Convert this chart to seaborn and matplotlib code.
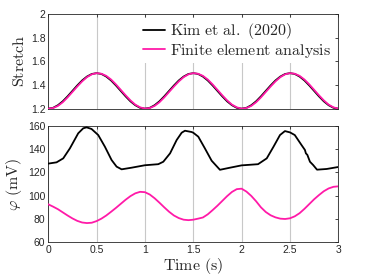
import numpy as np
import pandas as pd
import matplotlib
matplotlib.use("Agg")
import matplotlib.pyplot as plt
import seaborn as sns

# ---------------- data ----------------
stretch_time = [round(0.05 * i, 2) for i in range(61)]
stretch_kim = [
    1.200, 1.207, 1.229, 1.262, 1.304, 1.350, 1.396, 1.438, 1.471, 1.493,
    1.500, 1.493, 1.471, 1.438, 1.396, 1.350, 1.304, 1.262, 1.229, 1.207,
    1.200, 1.207, 1.229, 1.262, 1.304, 1.350, 1.396, 1.438, 1.471, 1.493,
    1.500, 1.493, 1.471, 1.438, 1.396, 1.350, 1.304, 1.262, 1.229, 1.207,
    1.200, 1.207, 1.229, 1.262, 1.304, 1.350, 1.396, 1.438, 1.471, 1.493,
    1.500, 1.493, 1.471, 1.438, 1.396, 1.350, 1.304, 1.262, 1.229, 1.207,
    1.200,
]
stretch_fe = [
    1.200, 1.205, 1.223, 1.254, 1.295, 1.341, 1.387, 1.430, 1.466, 1.490,
    1.500, 1.495, 1.477, 1.446, 1.405, 1.359, 1.313, 1.270, 1.234, 1.211,
    1.200, 1.205, 1.223, 1.254, 1.295, 1.341, 1.387, 1.430, 1.466, 1.490,
    1.500, 1.495, 1.477, 1.446, 1.405, 1.359, 1.313, 1.270, 1.234, 1.211,
    1.200, 1.205, 1.223, 1.254, 1.295, 1.341, 1.387, 1.430, 1.466, 1.490,
    1.500, 1.495, 1.477, 1.446, 1.405, 1.359, 1.313, 1.270, 1.234, 1.211,
    1.200,
]

phi_kim_time = [
    0.0, 0.086, 0.155, 0.224, 0.31, 0.362, 0.397, 0.448, 0.517, 0.586,
    0.655, 0.707, 0.759, 0.862, 1.0, 1.138, 1.19, 1.26, 1.328, 1.38,
    1.414, 1.483, 1.5, 1.552, 1.62, 1.69, 1.776, 1.88, 2.0, 2.17,
    2.26, 2.33, 2.397, 2.448, 2.5, 2.55, 2.62, 2.655, 2.665, 2.68,
    2.707, 2.74, 2.78, 2.88, 3.0,
]
phi_kim = [
    127.5, 128.6, 132.0, 140.6, 153.5, 157.8, 158.6, 157.2, 152.0, 142.0,
    130.6, 124.9, 122.6, 124.0, 126.1, 127.0, 129.1, 136.3, 147.7, 154.0,
    155.7, 154.6, 154.0, 150.6, 140.6, 130.0, 122.2, 124.0, 126.0, 127.0,
    132.0, 142.0, 152.0, 155.4, 154.3, 152.0, 143.4, 139.2, 136.3, 135.0,
    129.1, 126.3, 122.3, 122.9, 124.6,
]

phi_fe_time = [round(0.05 * i, 2) for i in range(61)]
phi_fe = [
    92.6, 90.6, 88.4, 85.7, 83.0, 80.5, 78.4, 77.0, 76.5, 76.8,
    78.2, 80.3, 83.0, 86.2, 89.5, 93.0, 96.5, 99.6, 102.0, 103.3,
    103.0, 101.0, 97.8, 94.0, 90.0, 86.2, 83.0, 80.8, 79.4, 79.0,
    79.4, 80.3, 81.3, 84.0, 87.6, 91.4, 95.5, 99.6, 103.2, 105.6,
    106.0, 103.5, 99.8, 95.2, 90.0, 86.0, 83.2, 81.4, 80.3, 80.0,
    80.6, 82.3, 85.0, 88.7, 92.8, 96.9, 100.5, 103.8, 106.2, 107.6,
    108.0,
]

x_ticks = [0, 0.5, 1, 1.5, 2, 2.5, 3]
x_tick_labels = ["0", "0.5", "1", "1.5", "2", "2.5", "3"]
stretch_ticks = [1.2, 1.4, 1.6, 1.8, 2.0]
stretch_tick_labels = ["1.2", "1.4", "1.6", "1.8", "2"]
phi_ticks = [60, 80, 100, 120, 140, 160]
phi_tick_labels = ["60", "80", "100", "120", "140", "160"]

label_kim = r"$\mathrm{Kim\ et\ al.\ (2020)}$"
label_fe = r"$\mathrm{Finite\ element\ analysis}$"

# ---------------- style ----------------
sns.set_theme(style="white")
plt.rcParams["font.family"] = ["Liberation Sans", "DejaVu Sans"]
plt.rcParams["mathtext.fontset"] = "cm"

BLACK = "#000000"
PINK = "#ff1aa8"
AXC = "#262626"
GRID = "#c8c8c8"

fig = plt.figure(figsize=(3.74, 2.80), dpi=100)
ax1 = fig.add_axes([0.129, 0.612, 0.7755, 0.338])
ax2 = fig.add_axes([0.129, 0.1346, 0.7755, 0.4164])

df_s = pd.DataFrame({"t": stretch_time, "kim": stretch_kim, "fe": stretch_fe})
df_pk = pd.DataFrame({"t": phi_kim_time, "v": phi_kim})
df_pf = pd.DataFrame({"t": phi_fe_time, "v": phi_fe})

sns.lineplot(data=df_s, x="t", y="kim", ax=ax1, color=BLACK, lw=1.3,
             label=label_kim, estimator=None, sort=False, zorder=3)
sns.lineplot(data=df_s, x="t", y="fe", ax=ax1, color=PINK, lw=1.3,
             label=label_fe, estimator=None, sort=False, zorder=3)
sns.lineplot(data=df_pk, x="t", y="v", ax=ax2, color=BLACK, lw=1.3,
             estimator=None, sort=False, zorder=3)
sns.lineplot(data=df_pf, x="t", y="v", ax=ax2, color=PINK, lw=1.3,
             estimator=None, sort=False, zorder=3)

for ax in (ax1, ax2):
    ax.set_xlim(0, 3)
    ax.set_xticks(x_ticks)
    ax.grid(True, axis="x", color=GRID, lw=0.8, zorder=0)
    ax.grid(False, axis="y")
    ax.tick_params(direction="in", length=2.5, width=0.6, colors=AXC,
                   labelsize=7.5, top=True, right=True, pad=2,
                   labelcolor=AXC)
    for sp in ax.spines.values():
        sp.set_color(AXC)
        sp.set_linewidth(0.6)
    ax.set_axisbelow(True)

ax1.set_ylim(1.2, 2.0)
ax1.set_yticks(stretch_ticks)
ax1.set_yticklabels(stretch_tick_labels)
ax1.set_xticklabels([])
ax1.set_xlabel("")
ax1.set_ylabel(r"$\mathrm{Stretch}$", fontsize=11.5, color=AXC, labelpad=3)

ax2.set_ylim(60, 160)
ax2.set_yticks(phi_ticks)
ax2.set_yticklabels(phi_tick_labels)
ax2.set_xticklabels(x_tick_labels)
ax2.set_xlabel(r"$\mathrm{Time\ (s)}$", fontsize=11.5, color=AXC, labelpad=1)
ax2.set_ylabel(r"$\varphi\ \mathrm{(mV)}$", fontsize=11.5, color=AXC, labelpad=3)

leg = ax1.legend(loc="upper right", frameon=True, fontsize=11.5,
                 handlelength=1.4, handletextpad=0.3, borderpad=0.2,
                 labelspacing=0.05, borderaxespad=0.25)
leg.get_frame().set_edgecolor("none")
leg.get_frame().set_facecolor("white")
leg.get_frame().set_alpha(1.0)
leg.get_frame().set_boxstyle("square", pad=0)
leg.set_zorder(5)
for line in leg.get_lines():
    line.set_linewidth(1.3)

fig.savefig("out.png", dpi=100)
